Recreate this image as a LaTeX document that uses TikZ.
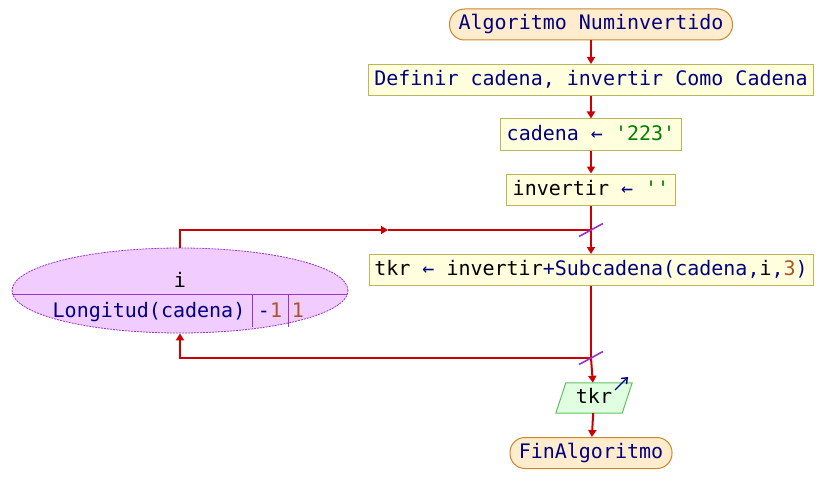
\documentclass[tikz,border=0pt]{standalone}
\usepackage{fontspec}
\newfontfamily\codefont{DejaVu Sans Mono}
\usetikzlibrary{arrows.meta,shapes.geometric,calc}
\definecolor{kwnavy}{RGB}{0,0,128}
\definecolor{litgreen}{RGB}{0,128,0}
\definecolor{numbrown}{RGB}{170,85,40}
\definecolor{flowred}{RGB}{204,0,0}
\definecolor{termfill}{RGB}{255,236,204}
\definecolor{termdraw}{RGB}{200,135,45}
\definecolor{procfill}{RGB}{255,255,221}
\definecolor{procdraw}{RGB}{190,180,90}
\definecolor{loopfill}{RGB}{240,204,255}
\definecolor{loopdraw}{RGB}{153,51,204}
\definecolor{outfill}{RGB}{224,255,224}
\definecolor{outdraw}{RGB}{100,190,100}
\tikzset{
  every node/.style={font=\codefont\fontsize{20}{24}\selectfont, inner sep=0pt, text height=15pt, text depth=4pt},
  term/.style={draw=termdraw, fill=termfill, line width=1pt, rounded corners=15pt, minimum height=31pt, text=kwnavy},
  proc/.style={draw=procdraw, fill=procfill, line width=1pt, minimum height=31pt},
  loopnode/.style={ellipse, draw=loopdraw, fill=loopfill, dashed, dash pattern=on 2pt off 1pt, line width=0.8pt},
  flow/.style={color=flowred, line width=2pt},
  arr/.style={flow, -{Triangle[length=7pt,width=8pt]}},
  tick/.style={color=loopdraw, line width=1.6pt}
}
\begin{document}
\begin{tikzpicture}[x=1pt,y=-1pt]
\useasboundingbox (0,0) rectangle (823,503);

% main column
\node[term, minimum width=283pt] (start) at (591,24.5) {Algoritmo Numinvertido};
\node[proc, minimum width=445pt, text=kwnavy] (def) at (591,80) {Definir cadena, invertir Como Cadena};
\node[proc, minimum width=181pt] (cad) at (591,134.5) {\textcolor{kwnavy}{cadena ←} \textcolor{litgreen}{'223'}};
\node[proc, minimum width=169pt] (inv) at (591,189.5) {invertir \textcolor{kwnavy}{←} \textcolor{litgreen}{''}};
\node[proc, minimum width=444pt] (tkr) at (591,270) {tkr \textcolor{kwnavy}{←} invertir\textcolor{kwnavy}{+Subcadena(cadena,}i\textcolor{kwnavy}{,}\textcolor{numbrown}{3}\textcolor{kwnavy}{)}};

% output parallelogram
\node[minimum width=66pt, minimum height=30pt] (out) at (594,398) {};
\filldraw[fill=outfill, draw=outdraw, line width=1pt] ($(out.north west)+(5,0)$) -- ($(out.north east)+(5,0)$) -- ($(out.south east)+(-5,0)$) -- ($(out.south west)+(-5,0)$) -- cycle;
\node (outtext) at (out) {tkr};
\coordinate (oa) at (615,390);
\coordinate (ob) at (628,377);
\draw[kwnavy, line width=1.4pt, -{Straight Barb[length=5pt,width=8pt]}] (oa) -- (ob);

\node[term, minimum width=162pt] (fin) at (591,453) {FinAlgoritmo};

% loop header
\node[loopnode, minimum width=336pt, minimum height=85pt, text height=0pt, text depth=0pt] (loop) at (180,290.5) {};
\draw[loopdraw, line width=0.8pt] ($(loop.center)+(-167.4,3.5)$) -- ($(loop.center)+(167.4,3.5)$);
\draw[loopdraw, line width=0.8pt] (252,294) -- (252,327);
\draw[loopdraw, line width=0.8pt] (288,294) -- (288,327);
\node (lvar) at (180,282) {i};
\node[text=kwnavy] (lend) at (149,312) {Longitud(cadena)};
\node (lstep) at (270,312) {\textcolor{kwnavy}{-}\textcolor{numbrown}{1}};
\node[text=numbrown] (lstart) at (298,312) {1};

% junction points on the main line
\coordinate (j1) at (591,230);
\coordinate (j2) at (591,358);
\coordinate (m1) at (388,230);

% connectors
\draw[arr] (start) -- (def);
\draw[arr] (def) -- (cad);
\draw[arr] (cad) -- (inv);
\draw[flow] (inv.south) -- (j1);
\draw[arr] (j1) -- (tkr);
\draw[arr] (loop.north) |- (m1);
\draw[flow] (m1) -- (j1);
\draw[flow] (tkr.south) -- (j2);
\draw[arr] (j2) -- (out);
\draw[arr] (j2) -| (loop.south);
\draw[arr] (out) -- (fin);

% loop markers
\draw[tick] ($(j1)+(-12,6.5)$) -- ($(j1)+(12,-6.5)$);
\draw[tick] ($(j2)+(-12,6.5)$) -- ($(j2)+(12,-6.5)$);
\end{tikzpicture}
\end{document}
